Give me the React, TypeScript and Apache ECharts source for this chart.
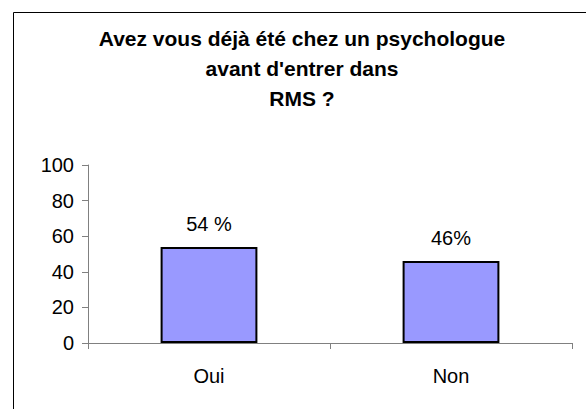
import React, { useEffect, useRef } from "react";
import * as echarts from "echarts";

const categories = ["Oui", "Non"];
const values = [54, 46];
const valueLabels = ["54 %", "46%"];
const yTicks = { min: 0, max: 100, interval: 20 };
const titleText = "Avez vous déjà été chez un psychologue\navant d'entrer dans\nRMS ?";

const FONT = "'Liberation Sans', Arial, sans-serif";

export default function App() {
  const ref = useRef<HTMLDivElement>(null);
  useEffect(() => {
    if (!ref.current) return;
    const chart = echarts.init(ref.current, undefined, { renderer: "svg" });
    chart.setOption({
      animation: false,
      backgroundColor: "#ffffff",
      title: {
        text: titleText,
        left: 297,
        textAlign: "center",
        top: 18,
        textStyle: {
          fontFamily: FONT,
          fontSize: 21,
          fontWeight: "bold",
          color: "#000",
          lineHeight: 30,
        },
      },
      graphic: [
        {
          type: "rect",
          shape: { x: 13.5, y: 12.5, width: 620, height: 440 },
          style: { fill: "none", stroke: "#000", lineWidth: 1 },
          silent: true,
        },
      ],
      grid: { left: 88, right: 14, top: 165, bottom: 66 },
      xAxis: {
        type: "category",
        data: categories,
        axisLine: { lineStyle: { color: "#808080", width: 1 } },
        axisTick: { show: true, length: 6, lineStyle: { color: "#808080" } },
        axisLabel: { color: "#000", fontFamily: FONT, fontSize: 20, margin: 23 },
      },
      yAxis: {
        type: "value",
        min: yTicks.min,
        max: yTicks.max,
        interval: yTicks.interval,
        axisLine: { show: true, lineStyle: { color: "#808080", width: 1 } },
        axisTick: { show: true, length: 6, lineStyle: { color: "#808080" } },
        splitLine: { show: false },
        axisLabel: { color: "#000", fontFamily: FONT, fontSize: 20, margin: 14 },
      },
      series: [
        {
          type: "bar",
          data: values,
          barWidth: "40%",
          itemStyle: { color: "#9999FF", borderColor: "#000", borderWidth: 2 },
          label: {
            show: true,
            position: "top",
            distance: 13,
            color: "#000",
            fontFamily: FONT,
            fontSize: 20,
            formatter: (p: any) => valueLabels[p.dataIndex],
          },
        },
      ],
    });
    return () => chart.dispose();
  }, []);
  return (
    <div
      ref={ref}
      style={{ position: "fixed", left: 0, top: 0, width: 586, height: 409 }}
    />
  );
}
